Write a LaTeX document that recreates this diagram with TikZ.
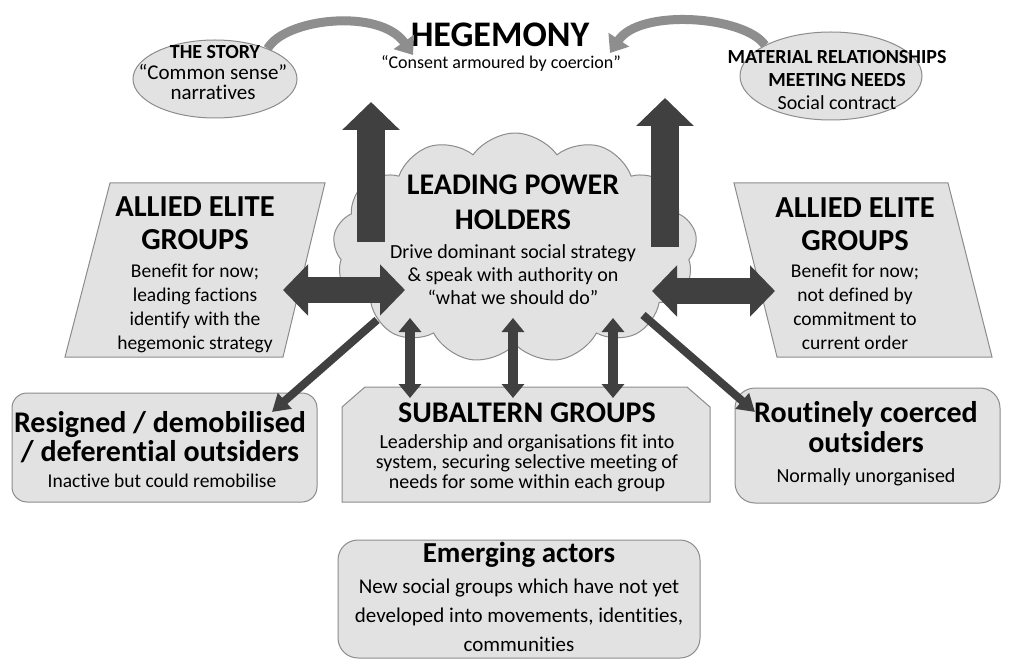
\documentclass[tikz,border=0pt]{standalone}
\usepackage{fontspec}
\setmainfont{Carlito}[Ligatures={NoCommon}]
\usetikzlibrary{shapes.symbols,shapes.geometric,arrows.meta}
\definecolor{boxfill}{HTML}{E2E2E2}
\definecolor{boxline}{HTML}{8C8C8C}
\definecolor{dark}{HTML}{404040}
\definecolor{curv}{HTML}{8E8E8E}
\begin{document}
\begin{tikzpicture}[x=1pt,y=-1pt,
  box/.style={draw=boxline, fill=boxfill, line width=1pt},
  txt/.style={align=center, inner sep=0pt, text=black},
  bigup/.style={draw=dark, line width=28pt, -{Triangle[width=56pt,length=28pt]}},
  bigdbl/.style={draw=dark, line width=25pt, {Triangle[width=50pt,length=25pt]}-{Triangle[width=50pt,length=25pt]}},
  thin/.style={draw=dark, line width=8pt, -{Triangle[width=20pt,length=17pt]}},
  vdbl/.style={draw=dark, line width=10pt, {Triangle[width=22pt,length=14pt]}-{Triangle[width=22pt,length=14pt]}},
  curved/.style={draw=curv, line width=9pt, -{Triangle[width=24pt,length=16pt]}}
]
\useasboundingbox (0,0) rectangle (1009,660);
\fill[white] (0,0) rectangle (1009,660);

% ellipses
\node[box, ellipse, minimum width=164pt, minimum height=78pt] (story) at (215,79) {};
\node[box, ellipse, minimum width=182pt, minimum height=88pt] (mat) at (831,76) {};

% hegemony
\node[txt, font=\bfseries\fontsize{36}{38}\selectfont] (heg) at (500,35) {HEGEMONY};
\node[txt, font=\fontsize{18}{20}\selectfont] (consent) at (501,63) {“Consent armoured by coercion”};

% texts in ellipses
\node[txt, font=\bfseries\fontsize{20}{22}\selectfont] (storyh) at (215,52) {THE STORY};
\node[txt, font=\fontsize{21}{20}\selectfont] (storyb) at (213,82) {“Common sense”\\narratives};
\node[txt, font=\bfseries\fontsize{20}{23}\selectfont] (math) at (837,68.5) {MATERIAL RELATIONSHIPS\\MEETING NEEDS};
\node[txt, font=\fontsize{20}{22}\selectfont] (matb) at (837,103) {Social contract};

% curved arrows
\coordinate (storytip) at (413,55);
\coordinate (mattip) at (610,53);
\draw[curved] (story.30) .. controls (285,18) and (380,8) .. (storytip);
\draw[curved] (mat.155) .. controls (745,16) and (640,8) .. (mattip);

% cloud
\node[cloud, cloud puffs=13, cloud puff arc=110, aspect=1.6, draw=boxline, fill=boxfill, line width=1pt,
      minimum width=364pt, minimum height=230pt, inner sep=0pt] (lead) at (515,248) {};

% parallelograms
\filldraw[box] (110,183) -- (325,183) -- (283,357) -- (65,357) -- cycle;
\filldraw[box] (734,183) -- (948,183) -- (992,357) -- (777,357) -- cycle;
\coordinate (alL) at (283,290);
\coordinate (alR) at (775,291);

% bottom boxes
\filldraw[box, rounded corners=15pt] (12,393) rectangle (317,502);
\filldraw[box] (342,407) -- (365,387) -- (687,387) -- (710,407) -- (710,502) -- (342,502) -- cycle;
\filldraw[box, rounded corners=20pt] (735,388) rectangle (1000,503);
\filldraw[box, rounded corners=20pt] (338,540) rectangle (700,658);

% connector coordinates
\coordinate (res) at (272,412);
\coordinate (rout) at (755,412);
\coordinate (s1) at (410,398);
\coordinate (s2) at (513,398);
\coordinate (s3) at (613,398);
\coordinate (c1) at (410,318);
\coordinate (c2) at (513,318);
\coordinate (c3) at (613,318);
\coordinate (lu0) at (371,242);
\coordinate (lu1) at (371,102);
\coordinate (ru0) at (665,247);
\coordinate (ru1) at (665,98);
\coordinate (cl) at (405,290);
\coordinate (cr) at (652,291);
\coordinate (dl) at (377,320);
\coordinate (dr) at (643,315);

% arrows
\draw[bigup] (lu0) -- (lu1);
\draw[bigup] (ru0) -- (ru1);
\draw[bigdbl] (alL) -- (cl);
\draw[bigdbl] (cr) -- (alR);
\draw[thin] (dl) -- (res);
\draw[thin] (dr) -- (rout);
\draw[vdbl] (c1) -- (s1);
\draw[vdbl] (c2) -- (s2);
\draw[vdbl] (c3) -- (s3);

% cloud text
\node[txt, font=\bfseries\fontsize{30}{35}\selectfont] (leadh) at (513,202) {LEADING POWER\\HOLDERS};
\node[txt, font=\fontsize{20}{23}\selectfont] (leadb) at (513,275) {Drive dominant social strategy\\\& speak with authority on\\“what we should do”};

% allied texts
\node[txt, font=\bfseries\fontsize{30.5}{33}\selectfont] (allh1) at (195,223.5) {ALLIED ELITE\\GROUPS};
\node[txt, font=\fontsize{19.5}{24}\selectfont] (allb1) at (195,308.5) {Benefit for now;\\leading factions\\identify with the\\hegemonic strategy};
\node[txt, font=\bfseries\fontsize{30.5}{33}\selectfont] (allh2) at (855,224.5) {ALLIED ELITE\\GROUPS};
\node[txt, font=\fontsize{19.5}{24}\selectfont] (allb2) at (855,307) {Benefit for now;\\not defined by\\commitment to\\current order};

% bottom texts
\node[txt, font=\bfseries\fontsize{30}{29}\selectfont] (resh) at (160,437.5) {Resigned / demobilised\\/ deferential outsiders};
\node[txt, font=\fontsize{19.5}{21}\selectfont] (resb) at (162,481) {Inactive but could remobilise};
\node[txt, font=\bfseries\fontsize{30}{32}\selectfont] (subh) at (527,413) {SUBALTERN GROUPS};
\node[txt, font=\fontsize{20}{20}\selectfont] (subb) at (527,463) {Leadership and organisations fit into\\system, securing selective meeting of\\needs for some within each group};
\node[txt, font=\bfseries\fontsize{30}{30}\selectfont] (routh) at (866,427) {Routinely coerced\\outsiders};
\node[txt, font=\fontsize{20}{22}\selectfont] (routb) at (866,477) {Normally unorganised};
\node[txt, font=\bfseries\fontsize{29}{31}\selectfont] (emh) at (519,555) {Emerging actors};
\node[txt, font=\fontsize{21}{29}\selectfont] (emb) at (519,615) {New social groups which have not yet\\developed into movements, identities,\\communities};
\end{tikzpicture}
\end{document}
